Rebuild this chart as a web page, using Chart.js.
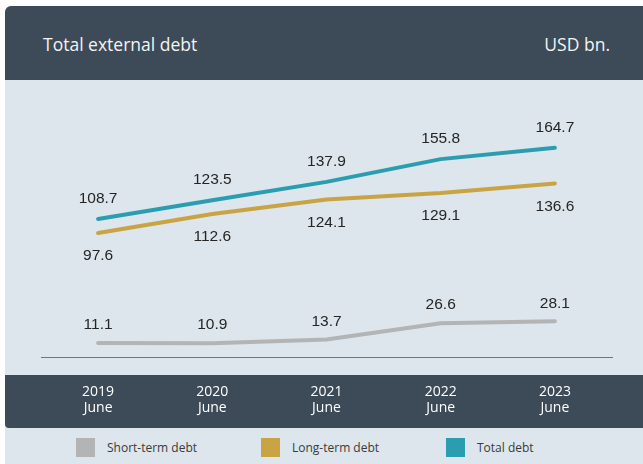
<!DOCTYPE html>
<html lang="en">
<head>
  <meta charset="UTF-8" />
  <title>Total external debt</title>
  <script src="https://cdn.jsdelivr.net/npm/chart.js"></script>
  <style>
    html, body { margin: 0; padding: 0; background: #ffffff; }
    body { width: 643px; height: 464px; position: relative; overflow: hidden; font-family: "Open Sans", "Noto Sans", sans-serif; }
    .card {
      position: absolute; left: 5px; top: 6px; width: 638px; height: 458px;
      background: #dce6ec; border-top-left-radius: 6px; overflow: hidden;
    }
    .head {
      position: absolute; left: 0; top: 0; width: 638px; height: 74px;
      background: #3d4a57; color: #f2f4f5; font-size: 17.5px;
    }
    .head .title { position: absolute; left: 38px; top: 26px; }
    .head .unit { position: absolute; right: 33px; top: 26px; }
    #grafico { position: absolute; left: 0; top: 74px; }
    .leyenda { position: absolute; left: 0; top: 432px; width: 638px; height: 26px; }
    .item { position: absolute; top: 0; font-size: 12px; color: #3a3a3a; }
    .item span.caja { position: absolute; left: 0; top: 0; width: 19px; height: 19px; }
    .item span.texto { position: absolute; left: 31px; top: 0px; white-space: nowrap; line-height: 19px; }
  </style>
</head>
<body>
  <div class="card">
    <div class="head">
      <div class="title">Total external debt</div>
      <div class="unit">USD bn.</div>
    </div>
    <canvas id="grafico" width="638" height="348"></canvas>
    <div class="leyenda" id="leyenda"></div>
  </div>

  <script>
    const periodos = [['2019', 'June'], ['2020', 'June'], ['2021', 'June'], ['2022', 'June'], ['2023', 'June']];
    const deudaCorto = [11.1, 10.9, 13.7, 26.6, 28.1];
    const deudaLargo = [97.6, 112.6, 124.1, 129.1, 136.6];
    const deudaTotal = [108.7, 123.5, 137.9, 155.8, 164.7];

    const series = [
      { nombre: 'Short-term debt', datos: deudaCorto, color: '#b2b4b6', offset: -18 },
      { nombre: 'Long-term debt', datos: deudaLargo, color: '#c9a444', offset: 23 },
      { nombre: 'Total debt', datos: deudaTotal, color: '#2b9db0', offset: -20 }
    ];

    // franja oscura detras de las etiquetas del eje x
    const franjaEje = {
      id: 'franjaEje',
      beforeDraw(chart) {
        const ctx = chart.ctx;
        const top = 295, bottom = 348, r = 4;
        ctx.save();
        ctx.fillStyle = '#3d4a57';
        ctx.beginPath();
        ctx.moveTo(0, top);
        ctx.lineTo(chart.width, top);
        ctx.lineTo(chart.width, bottom);
        ctx.lineTo(r, bottom);
        ctx.quadraticCurveTo(0, bottom, 0, bottom - r);
        ctx.closePath();
        ctx.fill();
        ctx.restore();
      }
    };

    // valores escritos junto a cada punto
    const valores = {
      id: 'valores',
      afterDatasetsDraw(chart) {
        const ctx = chart.ctx;
        ctx.save();
        ctx.font = '15.5px "Liberation Sans", Arial, sans-serif';
        ctx.fillStyle = '#252525';
        ctx.textAlign = 'center';
        ctx.textBaseline = 'middle';
        chart.data.datasets.forEach((ds, i) => {
          chart.getDatasetMeta(i).data.forEach((pt, j) => {
            ctx.fillText(ds.data[j].toFixed(1), pt.x, pt.y + ds.desplazamiento);
          });
        });
        ctx.restore();
      }
    };

    new Chart(document.getElementById('grafico').getContext('2d'), {
      type: 'line',
      data: {
        labels: periodos,
        datasets: series.map(s => ({
          label: s.nombre,
          data: s.datos,
          borderColor: s.color,
          backgroundColor: s.color,
          borderWidth: 4,
          borderCapStyle: 'round',
          borderJoinStyle: 'round',
          pointRadius: 0,
          tension: 0,
          desplazamiento: s.offset
        }))
      },
      options: {
        responsive: false,
        devicePixelRatio: 1,
        animation: false,
        layout: { padding: { left: 36, right: 31, top: 23, bottom: 0 } },
        plugins: { legend: { display: false }, tooltip: { enabled: false } },
        scales: {
          x: {
            offset: true,
            grid: { display: false, drawTicks: false },
            border: { color: '#6f777e', width: 1 },
            ticks: {
              color: '#ffffff',
              padding: 27,
              font: { family: '"Open Sans", "Noto Sans", sans-serif', size: 14, lineHeight: 1.15 },
              maxRotation: 0
            },
            afterFit(scale) { scale.height = 71; }
          },
          y: { display: false, min: 0, max: 200 }
        }
      },
      plugins: [franjaEje, valores]
    });

    // leyenda inferior
    const leyenda = document.getElementById('leyenda');
    series.forEach((s, i) => {
      const item = document.createElement('div');
      item.className = 'item';
      item.style.left = (71 + i * 185) + 'px';
      item.innerHTML = '<span class="caja" style="background:' + s.color + '"></span><span class="texto">' + s.nombre + '</span>';
      leyenda.appendChild(item);
    });
  </script>
</body>
</html>
